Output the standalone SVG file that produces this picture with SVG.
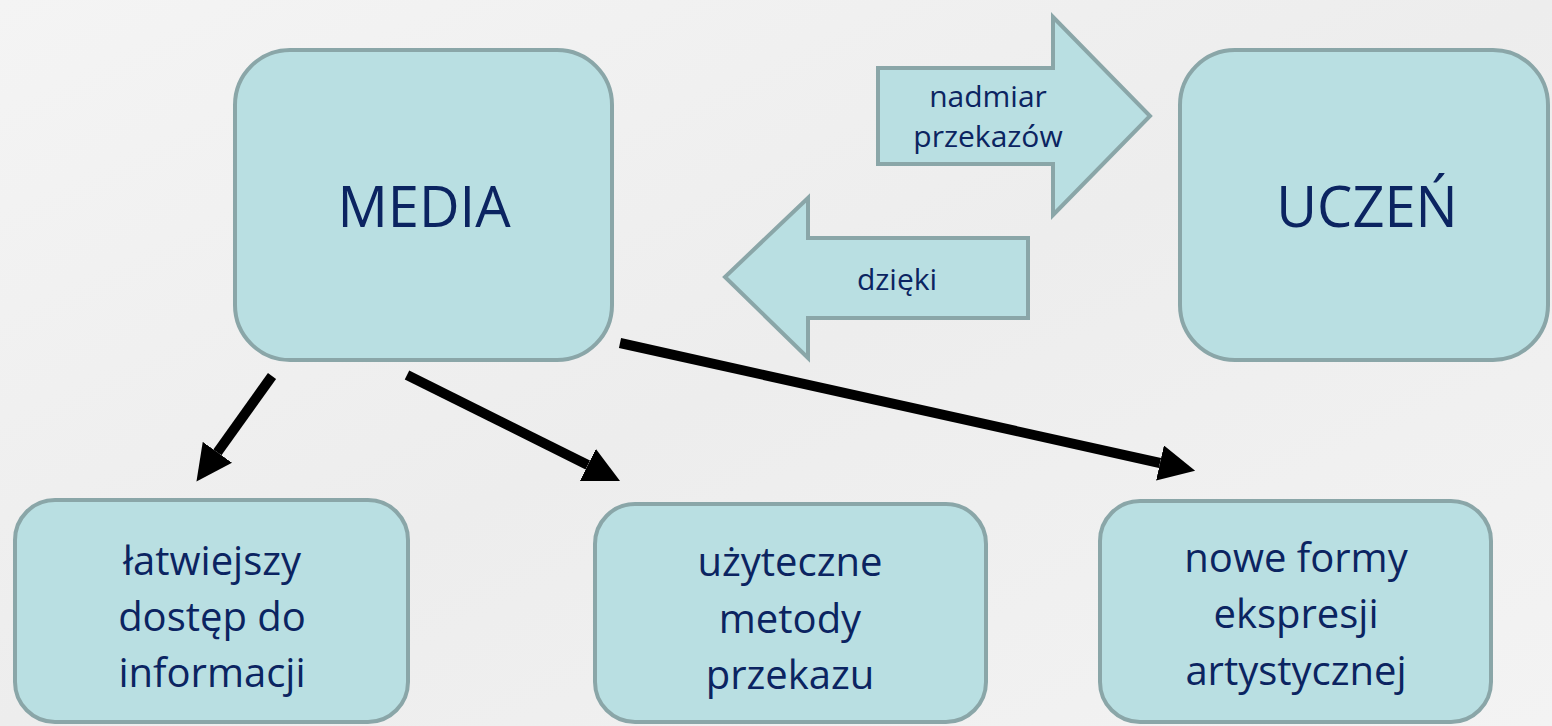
<svg xmlns="http://www.w3.org/2000/svg" width="1552" height="726" viewBox="0 0 1552 726">
<defs>
<linearGradient id="bg" x1="0" y1="0" x2="1" y2="1">
<stop offset="0" stop-color="#F4F4F4"/>
<stop offset="0.5" stop-color="#EDEDED"/>
<stop offset="1" stop-color="#F3F3F3"/>
</linearGradient>
<marker id="head" viewBox="0 0 36 36" markerUnits="userSpaceOnUse" markerWidth="36" markerHeight="36" refX="0" refY="18" orient="auto">
<path d="M0,0 L36,18 L0,36 Z" fill="#000"/>
</marker>
</defs>
<style>
.box{fill:#B9DFE2;stroke:#8AA6A8;stroke-width:4}
.t{font-family:"Open Sans","Liberation Sans",sans-serif;fill:#0B2461;text-anchor:middle}
.big{font-size:56px}
.mid{font-size:40px}
.sm{font-size:30px}
.conn{stroke:#000;stroke-width:10;fill:none;marker-end:url(#head)}
</style>
<rect x="0" y="0" width="1552" height="726" fill="url(#bg)"/>
<g id="media">
<rect class="box" x="235" y="50" width="377" height="310" rx="55"/>
<text class="t big" x="424" y="227">MEDIA</text>
</g>
<g id="uczen">
<rect class="box" x="1180" y="50" width="368" height="310" rx="55"/>
<text class="t big" x="1367" y="227">UCZEŃ</text>
</g>
<g id="arrow-nadmiar">
<polygon class="box" points="878,68 1053,68 1053,17 1150,116 1053,215 1053,164 878,164"/>
<text class="t sm" x="988" y="107">nadmiar</text>
<text class="t sm" x="988" y="147">przekazów</text>
</g>
<g id="arrow-dzieki">
<polygon class="box" points="1028,238 808,238 808,198 725,277 808,358 808,318 1028,318"/>
<text class="t sm" x="897" y="290">dzięki</text>
</g>
<g id="dostep">
<rect class="box" x="15" y="500" width="393" height="222" rx="40"/>
<text class="t mid" x="212" y="575">łatwiejszy</text>
<text class="t mid" x="212" y="631">dostęp do</text>
<text class="t mid" x="212" y="687">informacji</text>
</g>
<g id="metody">
<rect class="box" x="595" y="504" width="391" height="218" rx="40"/>
<text class="t mid" x="790" y="576">użyteczne</text>
<text class="t mid" x="790" y="633">metody</text>
<text class="t mid" x="790" y="689">przekazu</text>
</g>
<g id="formy">
<rect class="box" x="1100" y="501" width="391" height="221" rx="40"/>
<text class="t mid" x="1296" y="572">nowe formy</text>
<text class="t mid" x="1296" y="628">ekspresji</text>
<text class="t mid" x="1296" y="685">artystycznej</text>
</g>
<g id="connectors">
<line class="conn" x1="272" y1="376" x2="217.4" y2="452.3"/>
<line class="conn" x1="407" y1="375" x2="587.8" y2="465"/>
<line class="conn" x1="620" y1="343" x2="1160" y2="463"/>
</g>
</svg>
